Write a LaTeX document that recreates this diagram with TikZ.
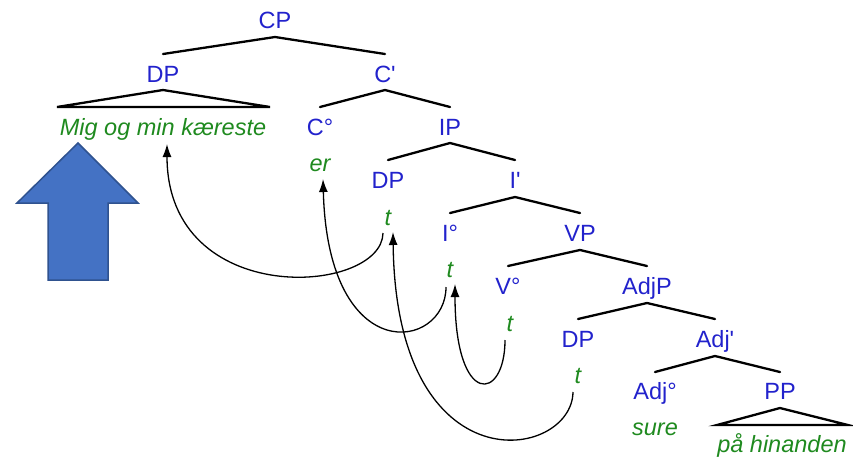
\documentclass[tikz,border=0pt]{standalone}
\usepackage{fontspec}
\setmainfont{Liberation Sans}
\usetikzlibrary{arrows.meta}
\definecolor{lblue}{HTML}{2222CC}
\definecolor{wgreen}{HTML}{1F8A1F}
\definecolor{arrfill}{HTML}{4472C4}
\definecolor{arrdraw}{HTML}{2F528F}
\tikzset{
  lab/.style={anchor=base,inner sep=0pt,text=lblue,font=\fontsize{23.5}{28}\selectfont},
  wrd/.style={anchor=base,inner sep=0pt,text=wgreen,font=\fontsize{23.5}{28}\selectfont\itshape},
  br/.style={line width=2.3pt,line cap=round},
  mv/.style={line width=1.3pt}}
\begin{document}
\begin{tikzpicture}[x=1pt,y=-1pt]
\useasboundingbox (0,0) rectangle (853,459);
% labels
\node[lab] (cp) at (275,28.5) {CP};
\node[lab] (dp1) at (163,82) {DP};
\node[lab] (c1) at (385,82) {C\textquotesingle};
\node[wrd] (mig) at (163,135) {Mig og min kæreste};
\node[lab] (c0) at (320,135) {C°};
\node[lab] (ip) at (450,135) {IP};
\node[wrd] (er) at (320,171) {er};
\node[lab] (dp2) at (388,188) {DP};
\node[lab] (i1) at (515,188) {I\textquotesingle};
\node[wrd] (t1) at (388,225) {t};
\node[lab] (i0) at (450,241) {I°};
\node[lab] (vp) at (580,241) {VP};
\node[wrd] (t2) at (450,277) {t};
\node[lab] (v0) at (508,294) {V°};
\node[lab] (adjp) at (647,294) {AdjP};
\node[wrd] (t3) at (510,331) {t};
\node[lab] (dp3) at (578,347) {DP};
\node[lab] (adj1) at (715,347) {Adj\textquotesingle};
\node[wrd] (t4) at (578,383) {t};
\node[lab] (adj0) at (655,399) {Adj°};
\node[lab] (pp) at (780,399) {PP};
\node[wrd] (sure) at (655,435) {sure};
\node[wrd] (paa) at (782,452) {på hinanden};
% branches
\draw[br] (163,54) -- (275,37) -- (385,54);
\draw[br] (57,107) -- (163,90) -- (270,107) -- cycle;
\draw[br] (320,107) -- (385,90) -- (450,107);
\draw[br] (388,160) -- (450,143) -- (515,160);
\draw[br] (450,213) -- (515,197) -- (580,213);
\draw[br] (508,266) -- (580,250) -- (647,266);
\draw[br] (578,319) -- (647,303) -- (715,319);
\draw[br] (655,372) -- (715,356) -- (780,372);
\draw[br] (717,425) -- (780,408) -- (848,425) -- cycle;
% movement arrows
\draw[mv,-{Latex[length=13pt,width=9pt]}] ([xshift=-5pt,yshift=-8pt]t1.base) .. controls (382,295) and (167,310) .. ([xshift=4pt,yshift=-9pt]mig.base);
\draw[mv,-{Latex[length=13pt,width=9pt]}] ([xshift=-4pt,yshift=-10pt]t2.base) .. controls (446,350) and (328,370) .. ([xshift=3pt,yshift=-8pt]er.base);
\draw[mv,-{Latex[length=13pt,width=9pt]}] ([xshift=-5pt,yshift=-9pt]t3.base) .. controls (505,402) and (455,408) .. ([xshift=5pt,yshift=-7pt]t2.base);
\draw[mv,-{Latex[length=13pt,width=9pt]}] ([xshift=-5pt,yshift=-9pt]t4.base) .. controls (572,460) and (396,490) .. ([xshift=5pt,yshift=-7pt]t1.base);
% big blue arrow
\draw[fill=arrfill,draw=arrdraw,line width=1.5pt]
  (78,143) -- (138,203) -- (108,203) -- (108,280) -- (48,280) -- (48,203) -- (17,203) -- cycle;
\end{tikzpicture}
\end{document}
